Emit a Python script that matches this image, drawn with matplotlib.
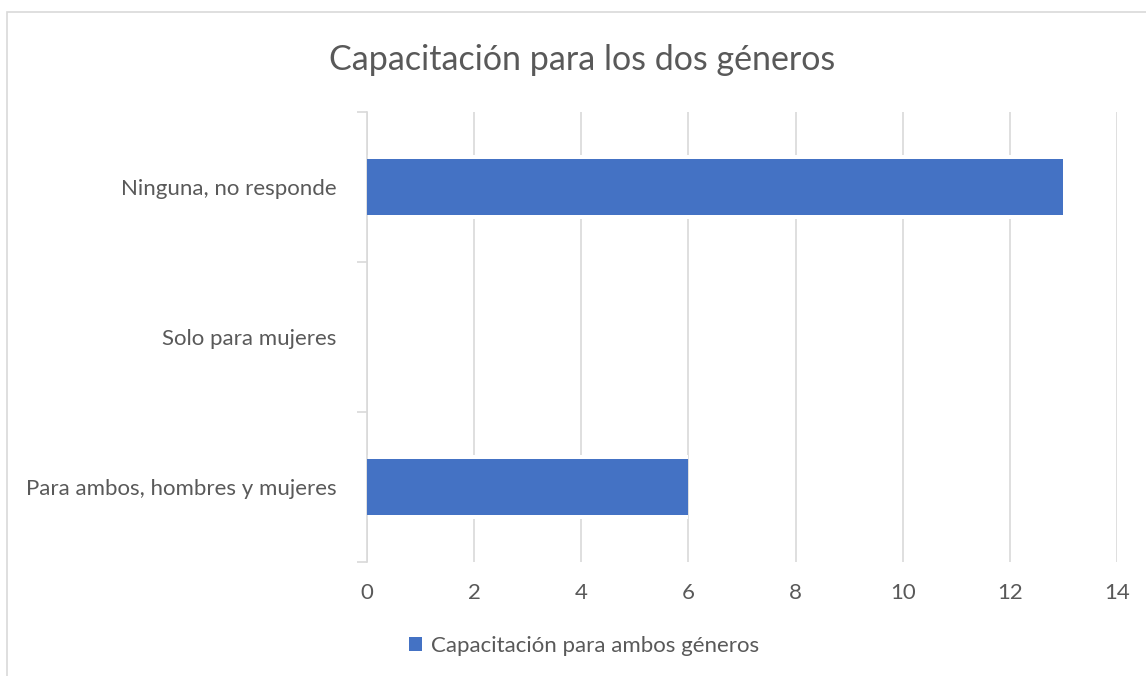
import matplotlib.pyplot as plt
from matplotlib.patches import Rectangle

# datos del gráfico (de abajo hacia arriba)
categorias = ["Para ambos, hombres y mujeres", "Solo para mujeres", "Ninguna, no responde"]
valores = [6, 0, 13]
serie = "Capacitación para ambos géneros"
titulo = "Capacitación para los dos géneros"
xticks = [0, 2, 4, 6, 8, 10, 12, 14]

gris = "#595959"
linea = "#d9d9d9"
azul = "#4472C4"

plt.rcParams['font.family'] = ['Lato', 'DejaVu Sans']

fig = plt.figure(figsize=(11.46, 6.76), dpi=100)
ax = fig.add_axes([367/1146, 1 - 562/676, 750/1146, 450/676])

# marco del área del gráfico
fig.patches.append(Rectangle((7/1146, -0.1), 1.2, 1 - 12/676 + 0.1, transform=fig.transFigure,
                             fill=False, edgecolor=linea, linewidth=1.2))

y = list(range(len(categorias)))
ax.barh(y, valores, height=0.43, color="white", zorder=2)
bars = ax.barh(y, valores, height=0.373, color=azul, zorder=3, label=serie)

ax.set_xlim(0, 14)
ax.set_ylim(-0.5, 2.5)
ax.set_xticks(xticks)
ax.set_xticklabels([str(v) for v in xticks])
ax.grid(axis="x", color=linea, linewidth=1.2, zorder=1)
ax.set_axisbelow(True)

ax.set_yticks(y)
ax.set_yticklabels(categorias)
ax.set_yticks([-0.5, 0.5, 1.5, 2.5], minor=True)
ax.tick_params(axis="y", which="major", length=0, pad=22, labelsize=16, labelcolor=gris)
ax.tick_params(axis="y", which="minor", length=7, width=1.2, color=linea)
ax.tick_params(axis="x", length=0, pad=15, labelsize=16, labelcolor=gris)

for s in ["top", "right", "bottom"]:
    ax.spines[s].set_visible(False)
ax.spines["left"].set_color(linea)
ax.spines["left"].set_linewidth(1.2)

fig.text(582/1146, 1 - 60/676, titulo, ha="center", va="center", fontsize=24.5, color=gris)

fig.legend(handles=[bars], labels=[serie], loc="center", bbox_to_anchor=(584/1146, 1 - 646/676),
           frameon=False, fontsize=16, labelcolor=gris, handlelength=0.6, handleheight=0.6,
           handletextpad=0.4)

fig.savefig("out.png", dpi=100)
